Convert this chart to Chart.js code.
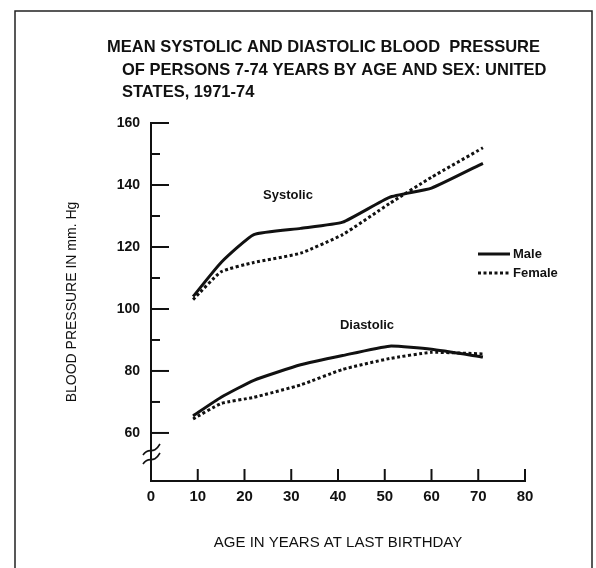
<!DOCTYPE html>
<html>
<head>
<meta charset="utf-8">
<script src="https://cdn.jsdelivr.net/npm/chart.js@4.4.1/dist/chart.umd.min.js"></script>
<style>
  html, body { margin: 0; padding: 0; background: #fff; }
</style>
</head>
<body>
<canvas id="bpChart" width="596" height="568"></canvas>
<script>
// age midpoints of the survey groups
const ages = [9, 15, 22, 32, 41, 51, 60, 71];
const maleSystolic = [104, 115, 124, 126, 128, 136, 139, 147];
const femaleSystolic = [103, 112, 115, 118, 124, 134, 142.5, 152];
const maleDiastolic = [65.5, 71.5, 77, 82, 85, 88, 87, 84.5];
const femaleDiastolic = [64.5, 69.5, 71.5, 75.5, 80.5, 84, 86, 85.5];

const xTicks = [0, 10, 20, 30, 40, 50, 60, 70, 80];
const yTicks = [60, 70, 80, 90, 100, 110, 120, 130, 140, 150, 160];

const titleLines = [
  'MEAN SYSTOLIC AND DIASTOLIC BLOOD  PRESSURE',
  'OF PERSONS 7-74 YEARS BY AGE AND SEX: UNITED',
  'STATES, 1971-74'
];

const FONT = '"Liberation Sans", Arial, sans-serif';

function pts(vals) {
  return ages.map((a, i) => ({ x: a, y: vals[i] }));
}

function maleLine(label, vals) {
  return { label: label, data: pts(vals), borderColor: '#111', borderWidth: 3,
           pointRadius: 0, tension: 0.15, fill: false };
}
function femaleLine(label, vals) {
  return { label: label, data: pts(vals), borderColor: '#111', borderWidth: 3,
           borderDash: [3, 2.5], pointRadius: 0, tension: 0.15, fill: false };
}

// frame, inward ticks, axis break, title, notes and key
const decorations = {
  id: 'decorations',
  afterDraw(chart) {
    const { ctx, scales: { x, y } } = chart;
    const line = (x1, y1, x2, y2) => {
      ctx.beginPath(); ctx.moveTo(x1, y1); ctx.lineTo(x2, y2); ctx.stroke();
    };
    ctx.save();
    ctx.strokeStyle = '#222';
    ctx.lineWidth = 1.5;
    ctx.strokeRect(15, 11, 577, 620);

    ctx.strokeStyle = '#111';
    ctx.lineWidth = 2;
    yTicks.forEach(v => {
      const py = y.getPixelForValue(v);
      line(x.left, py, x.left + (v % 20 === 0 ? 18 : 9), py);
    });
    xTicks.slice(1).forEach(v => {
      const px = x.getPixelForValue(v);
      line(px, y.bottom, px, y.bottom - 12);
    });

    // axis break marks
    ctx.lineWidth = 1.6;
    [0, 9].forEach(d => {
      ctx.beginPath();
      ctx.moveTo(x.left - 8, 455 + d);
      ctx.bezierCurveTo(x.left - 2, 446 + d, x.left + 2, 456 + d, x.left + 9, 444 + d);
      ctx.stroke();
    });

    ctx.fillStyle = '#111';
    ctx.textBaseline = 'middle';
    ctx.textAlign = 'left';
    ctx.font = 'bold 16.5px ' + FONT;
    ctx.fillText(titleLines[0], 107, 47);
    ctx.fillText(titleLines[1], 122, 70);
    ctx.fillText(titleLines[2], 122, 92);

    ctx.font = 'bold 13px ' + FONT;
    ctx.textAlign = 'center';
    ctx.fillText('Systolic', 288, 195);
    ctx.fillText('Diastolic', 367, 325);

    ctx.textAlign = 'left';
    ctx.lineWidth = 3;
    line(478, 254, 510, 254);
    ctx.setLineDash([3, 2.5]);
    line(478, 273, 510, 273);
    ctx.setLineDash([]);
    ctx.fillText('Male', 513, 254);
    ctx.fillText('Female', 513, 273);
    ctx.restore();
  }
};

new Chart(document.getElementById('bpChart'), {
  type: 'line',
  data: {
    datasets: [
      maleLine('Male systolic', maleSystolic),
      femaleLine('Female systolic', femaleSystolic),
      maleLine('Male diastolic', maleDiastolic),
      femaleLine('Female diastolic', femaleDiastolic)
    ]
  },
  options: {
    responsive: false,
    animation: false,
    layout: { padding: { left: 0, top: 123, right: 71, bottom: 0 } },
    plugins: { legend: { display: false }, title: { display: false }, tooltip: { enabled: false } },
    scales: {
      x: {
        type: 'linear',
        min: 0,
        max: 80,
        afterBuildTicks: s => { s.ticks = xTicks.map(v => ({ value: v })); },
        afterFit: s => { s.height = 87; },
        grid: { display: false, drawTicks: false },
        border: { display: true, color: '#111', width: 2 },
        ticks: { color: '#111', padding: 7, maxRotation: 0, font: { family: FONT, size: 15, weight: 'bold' } },
        title: {
          display: true,
          text: 'AGE IN YEARS AT LAST BIRTHDAY',
          color: '#111',
          font: { family: FONT, size: 15 },
          padding: { top: 0, bottom: 16 }
        }
      },
      y: {
        min: 44.5,
        max: 160,
        afterBuildTicks: s => { s.ticks = yTicks.map(v => ({ value: v })); },
        afterFit: s => { s.width = 151; },
        grid: { display: false, drawTicks: false },
        border: { display: true, color: '#111', width: 2 },
        ticks: {
          color: '#111',
          padding: 11,
          font: { family: FONT, size: 14, weight: 'bold' },
          callback: v => (v % 20 === 0 ? v : '')
        },
        title: {
          display: true,
          text: 'BLOOD PRESSURE IN mm. Hg',
          color: '#111',
          font: { family: FONT, size: 14 },
          padding: { top: 64, bottom: 0 }
        }
      }
    }
  },
  plugins: [decorations]
});
</script>
</body>
</html>
